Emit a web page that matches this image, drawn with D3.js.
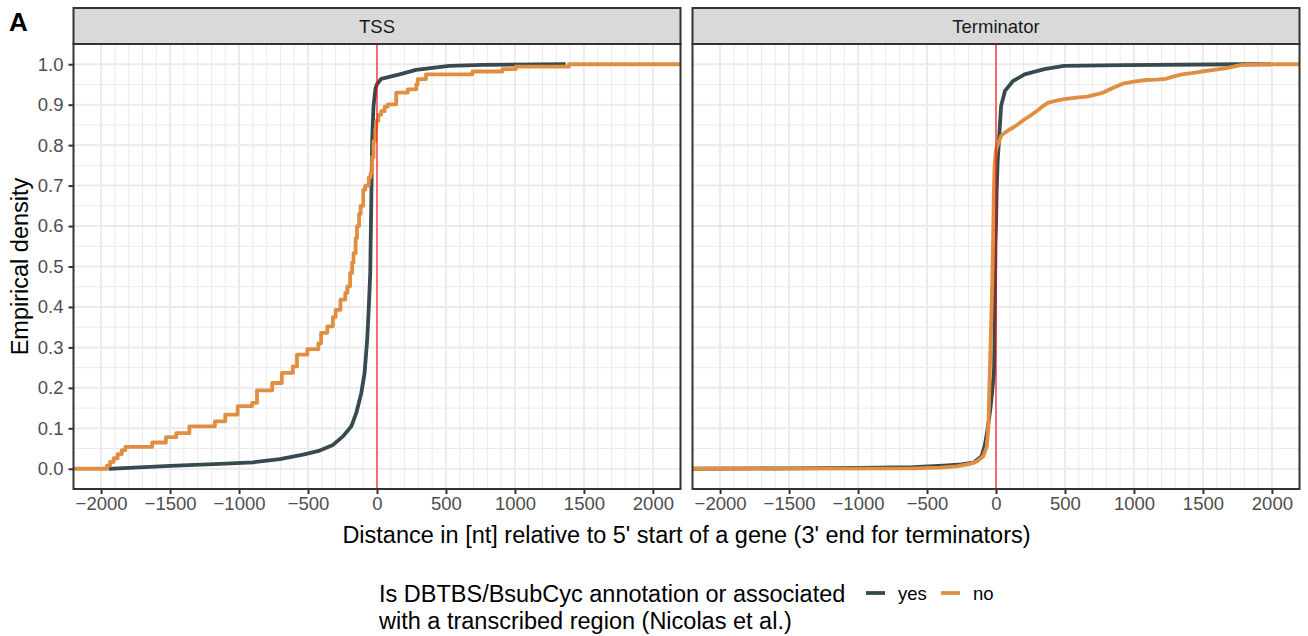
<!DOCTYPE html>
<html>
<head>
<meta charset="utf-8">
<script src="https://cdn.jsdelivr.net/npm/d3@7"></script>
<style>
  html, body { margin: 0; padding: 0; background: #fff; }
  svg { display: block; font-family: "Liberation Sans", Arial, Helvetica, sans-serif; }
</style>
</head>
<body>
<svg id="chart" width="1308" height="636"></svg>
<script>
// Facet names and series keys
const panelNames = ["TSS", "Terminator"];
const groupNames = ["yes", "no"];
const groupColors = ["#374A50", "#E08F42"];

// Axis ticks
const xTicks = [-2000, -1500, -1000, -500, 0, 500, 1000, 1500, 2000];
const xMinor = d3.range(-2000, 2001, 100);
const yTicks = [0, 0.1, 0.2, 0.3, 0.4, 0.5, 0.6, 0.7, 0.8, 0.9, 1.0];
const yMinor = d3.range(0, 1.001, 0.05);

// Empirical CDFs: [distance in nt, cumulative fraction]
// TSS, annotated ("yes")
const tssYes = [
  [-1945, 0], [-1499, 0.0074], [-1138, 0.012], [-897, 0.016], [-704, 0.024],
  [-536, 0.035], [-415, 0.045], [-319, 0.059], [-247, 0.08], [-186, 0.105],
  [-150, 0.138], [-114, 0.187], [-90, 0.237], [-71, 0.319], [-59, 0.402],
  [-49, 0.484], [-42, 0.649], [-35, 0.814], [-25, 0.897], [-11, 0.94],
  [-1, 0.95], [30, 0.964], [163, 0.975], [283, 0.986], [524, 0.996],
  [765, 0.9985], [1367, 1.0]
];
// TSS, not annotated ("no") — step positions
const tssNo = [
  [-2200, 0], [-1957, 0.008], [-1935, 0.017], [-1909, 0.026], [-1880, 0.036],
  [-1850, 0.046], [-1824, 0.054], [-1630, 0.065], [-1530, 0.078], [-1455, 0.088],
  [-1360, 0.105], [-1175, 0.117], [-1100, 0.134], [-1010, 0.155], [-905, 0.163],
  [-870, 0.194], [-760, 0.212], [-690, 0.237], [-610, 0.253], [-580, 0.282],
  [-505, 0.296], [-425, 0.31], [-405, 0.336], [-360, 0.352], [-320, 0.375],
  [-300, 0.393], [-265, 0.418], [-230, 0.435], [-215, 0.451], [-195, 0.484],
  [-180, 0.51], [-170, 0.533], [-155, 0.57], [-145, 0.6], [-130, 0.63],
  [-119, 0.65], [-100, 0.69], [-85, 0.70], [-60, 0.72], [-47, 0.73],
  [-35, 0.77], [-25, 0.81], [-12, 0.84], [-6, 0.86], [10, 0.875],
  [30, 0.884], [55, 0.895], [78, 0.901], [139, 0.930], [223, 0.938],
  [285, 0.95], [295, 0.963], [355, 0.975], [692, 0.982], [909, 0.988],
  [1006, 0.994], [1391, 1.0], [2200, 1.0]
];
// Terminator, annotated ("yes")
const termYes = [
  [-2200, 0], [-1500, 0.001], [-1000, 0.002], [-600, 0.004], [-381, 0.008],
  [-250, 0.011], [-164, 0.015], [-104, 0.031], [-80, 0.06], [-60, 0.1],
  [-40, 0.15], [-25, 0.2], [-14, 0.245], [-8, 0.4], [-4, 0.55],
  [0, 0.6], [5, 0.69], [12, 0.76], [22, 0.814], [37, 0.897],
  [65, 0.934], [122, 0.958], [207, 0.975], [350, 0.988], [492, 0.996],
  [919, 0.998], [1773, 1.0], [1993, 1.0]
];
// Terminator, not annotated ("no")
const termNo = [
  [-2200, 0], [-600, 0.001], [-405, 0.003], [-284, 0.006], [-188, 0.012],
  [-140, 0.018], [-92, 0.031], [-67, 0.055], [-55, 0.105], [-48, 0.2],
  [-40, 0.3], [-30, 0.42], [-22, 0.55], [-16, 0.68], [-10, 0.75],
  [-2, 0.785], [9, 0.798], [37, 0.823], [65, 0.831], [95, 0.838],
  [122, 0.843], [165, 0.853], [207, 0.864], [250, 0.873], [293, 0.884],
  [335, 0.895], [379, 0.905], [450, 0.911], [521, 0.915], [600, 0.918],
  [663, 0.920], [720, 0.925], [777, 0.930], [850, 0.942], [919, 0.952],
  [1000, 0.957], [1090, 0.961], [1160, 0.962], [1232, 0.964], [1290, 0.970],
  [1347, 0.975], [1420, 0.978], [1489, 0.982], [1580, 0.986], [1660, 0.990],
  [1720, 0.994], [1773, 0.998], [1860, 0.999], [1944, 1.0], [2200, 1.0]
];

const panelSeries = [
  [{ data: tssYes, curve: d3.curveLinear }, { data: tssNo, curve: d3.curveStepAfter }],
  [{ data: termYes, curve: d3.curveLinear }, { data: termNo, curve: d3.curveLinear }]
];

const svg = d3.select("#chart");

const panelW = 607;
const panelLefts = [73.5, 692.5];
const panelTop = 44, panelBottom = 489;
const stripTop = 8;
const tickFont = 18.5, titleFont = 23.5;

const y = d3.scaleLinear().domain([-0.05, 1.05]).range([panelBottom, panelTop]);

// Figure tag
svg.append("text").attr("x", 9).attr("y", 31)
  .attr("font-size", 26).attr("font-weight", "bold").attr("fill", "#000").text("A");

panelLefts.forEach((left, pi) => {
  const x = d3.scaleLinear().domain([-2200, 2200]).range([left, left + panelW]);
  const g = svg.append("g");

  // panel background
  g.append("rect").attr("x", left).attr("y", panelTop)
    .attr("width", panelW).attr("height", panelBottom - panelTop).attr("fill", "#fff");

  // minor grid
  g.append("g").selectAll("line").data(xMinor.filter(v => v % 500 !== 0)).join("line")
    .attr("x1", d => x(d)).attr("x2", d => x(d))
    .attr("y1", panelTop).attr("y2", panelBottom)
    .attr("stroke", "#EBEBEB").attr("stroke-width", 1);
  g.append("g").selectAll("line").data(yMinor.filter((v, i) => i % 2 === 1)).join("line")
    .attr("x1", left).attr("x2", left + panelW)
    .attr("y1", d => y(d)).attr("y2", d => y(d))
    .attr("stroke", "#EBEBEB").attr("stroke-width", 1);
  // major grid
  g.append("g").selectAll("line").data(xTicks).join("line")
    .attr("x1", d => x(d)).attr("x2", d => x(d))
    .attr("y1", panelTop).attr("y2", panelBottom)
    .attr("stroke", "#EBEBEB").attr("stroke-width", 2);
  g.append("g").selectAll("line").data(yTicks).join("line")
    .attr("x1", left).attr("x2", left + panelW)
    .attr("y1", d => y(d)).attr("y2", d => y(d))
    .attr("stroke", "#EBEBEB").attr("stroke-width", 2);

  // clip for the curves
  const clipId = "clip" + pi;
  svg.append("clipPath").attr("id", clipId).append("rect")
    .attr("x", left).attr("y", panelTop).attr("width", panelW).attr("height", panelBottom - panelTop);

  const lines = g.append("g").attr("clip-path", `url(#${clipId})`);
  panelSeries[pi].forEach((s, si) => {
    const line = d3.line().x(d => x(d[0])).y(d => y(d[1])).curve(s.curve);
    lines.append("path").datum(s.data).attr("d", line)
      .attr("fill", "none").attr("stroke", groupColors[si])
      .attr("stroke-width", 3.8).attr("stroke-linejoin", "round").attr("stroke-linecap", "butt");
  });

  // reference line at zero
  lines.append("line").attr("x1", x(0)).attr("x2", x(0))
    .attr("y1", panelTop).attr("y2", panelBottom)
    .attr("stroke", "#FF0000").attr("stroke-width", 1.1);

  // panel border
  g.append("rect").attr("x", left).attr("y", panelTop)
    .attr("width", panelW).attr("height", panelBottom - panelTop)
    .attr("fill", "none").attr("stroke", "#333333").attr("stroke-width", 2);

  // strip
  g.append("rect").attr("x", left).attr("y", stripTop)
    .attr("width", panelW).attr("height", panelTop - stripTop)
    .attr("fill", "#D9D9D9").attr("stroke", "#333333").attr("stroke-width", 2);
  g.append("text").attr("x", left + panelW / 2).attr("y", (stripTop + panelTop) / 2)
    .attr("dy", "0.36em").attr("text-anchor", "middle")
    .attr("font-size", tickFont).attr("fill", "#1A1A1A").text(panelNames[pi]);

  // x axis
  const xAxis = d3.axisBottom(x).tickValues(xTicks).tickSize(5).tickPadding(3)
    .tickFormat(d => d < 0 ? "\u2212" + Math.abs(d) : String(d));
  const ax = g.append("g").attr("transform", `translate(0,${panelBottom})`).call(xAxis);
  ax.select(".domain").remove();
  ax.selectAll(".tick line").attr("stroke", "#333333").attr("stroke-width", 2);
  ax.selectAll(".tick text").attr("font-size", tickFont).attr("fill", "#4D4D4D")
    .attr("font-family", "Liberation Sans, Arial, Helvetica, sans-serif");

  // y axis on the first panel only
  if (pi === 0) {
    const yAxis = d3.axisLeft(y).tickValues(yTicks).tickSize(5).tickPadding(5)
      .tickFormat(d3.format(".1f"));
    const ay = g.append("g").attr("transform", `translate(${left},0)`).call(yAxis);
    ay.select(".domain").remove();
    ay.selectAll(".tick line").attr("stroke", "#333333").attr("stroke-width", 2);
    ay.selectAll(".tick text").attr("font-size", tickFont).attr("fill", "#4D4D4D")
      .attr("font-family", "Liberation Sans, Arial, Helvetica, sans-serif");
  }
});

// axis titles
svg.append("text")
  .attr("transform", `translate(28,${(panelTop + panelBottom) / 2}) rotate(-90)`)
  .attr("text-anchor", "middle").attr("font-size", titleFont).attr("fill", "#000")
  .text("Empirical density");
svg.append("text")
  .attr("x", (panelLefts[0] + panelLefts[1] + panelW) / 2).attr("y", 542.5)
  .attr("text-anchor", "middle").attr("font-size", titleFont).attr("fill", "#000")
  .text("Distance in [nt] relative to 5' start of a gene (3' end for terminators)");

// legend
const legend = svg.append("g");
const legendTitle = ["Is DBTBS/BsubCyc annotation or associated", "with a transcribed region (Nicolas et al.)"];
legend.selectAll("text.title").data(legendTitle).join("text").attr("class", "title")
  .attr("x", 379).attr("y", (d, i) => 601.5 + i * 27)
  .attr("font-size", titleFont).attr("fill", "#000").text(d => d);

const keyX = [866, 941];
const labelX = [898, 973];
groupNames.forEach((name, i) => {
  legend.append("line").attr("x1", keyX[i]).attr("x2", keyX[i] + 19)
    .attr("y1", 593).attr("y2", 593)
    .attr("stroke", groupColors[i]).attr("stroke-width", 3.8);
  legend.append("text").attr("x", labelX[i]).attr("y", 593).attr("dy", "0.36em")
    .attr("font-size", tickFont).attr("fill", "#000").text(name);
});
</script>
</body>
</html>
